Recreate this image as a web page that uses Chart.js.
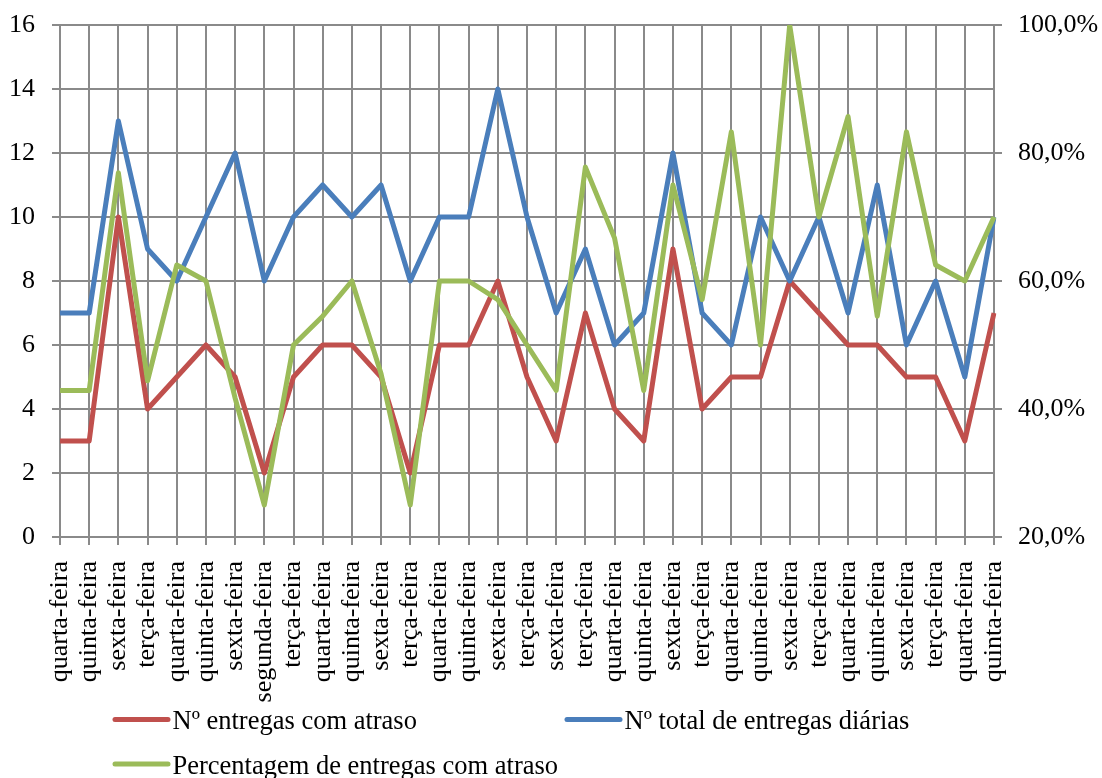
<!DOCTYPE html>
<html>
<head>
<meta charset="utf-8">
<script src="https://cdn.jsdelivr.net/npm/chart.js@4.4.1/dist/chart.umd.min.js"></script>
<style>
  html, body { margin: 0; padding: 0; background: #ffffff; }
  #wrap { width: 1102px; height: 778px; }
</style>
</head>
<body>
<div id="wrap"><canvas id="grafico" width="1102" height="778"></canvas></div>
<script>
// Dias de entrega (eixo das categorias)
const dias = [
  'quarta-feira', 'quinta-feira', 'sexta-feira', 'terça-feira', 'quarta-feira',
  'quinta-feira', 'sexta-feira', 'segunda-feira', 'terça-feira', 'quarta-feira',
  'quinta-feira', 'sexta-feira', 'terça-feira', 'quarta-feira', 'quinta-feira',
  'sexta-feira', 'terça-feira', 'sexta-feira', 'terça-feira', 'quarta-feira',
  'quinta-feira', 'sexta-feira', 'terça-feira', 'quarta-feira', 'quinta-feira',
  'sexta-feira', 'terça-feira', 'quarta-feira', 'quinta-feira', 'sexta-feira',
  'terça-feira', 'quarta-feira', 'quinta-feira'
];

// Nº de entregas com atraso
const entregasAtraso = [3, 3, 10, 4, 5, 6, 5, 2, 5, 6, 6, 5, 2, 6, 6, 8, 5, 3, 7, 4, 3, 9, 4, 5, 5, 8, 7, 6, 6, 5, 5, 3, 7];

// Nº total de entregas diárias
const entregasTotais = [7, 7, 13, 9, 8, 10, 12, 8, 10, 11, 10, 11, 8, 10, 10, 14, 10, 7, 9, 6, 7, 12, 7, 6, 10, 8, 10, 7, 11, 6, 8, 5, 10];

// Percentagem de entregas com atraso (%)
const percentagemAtraso = [
  42.9, 42.9, 76.9, 44.4, 62.5, 60.0, 41.7, 25.0, 50.0, 54.5, 60.0,
  45.5, 25.0, 60.0, 60.0, 57.1, 50.0, 42.9, 77.8, 66.7, 42.9, 75.0,
  57.1, 83.3, 50.0, 100.0, 70.0, 85.7, 54.5, 83.3, 62.5, 60.0, 70.0
];

// Limites dos eixos
const eixoEsquerdo = { min: 0, max: 16, passo: 2 };
const eixoDireito = { min: 20, max: 100, passo: 20 };

const corGrelha = '#8a8a8a';
const familia = '"Liberation Serif", "Times New Roman", serif';
const fonteEixos = { family: familia, size: 26 };
const fonteLegenda = { family: familia, size: 26.5 };

// Legenda em grelha (duas colunas) desenhada por baixo do eixo das categorias
const legendaGrelha = {
  id: 'legendaGrelha',
  afterDraw(chart) {
    const ctx = chart.ctx;
    const celulas = [
      { ds: 0, x: 115, linhaY: 719.5, textoY: 729 },
      { ds: 1, x: 567, linhaY: 719.5, textoY: 729 },
      { ds: 2, x: 115, linhaY: 764, textoY: 773.5 }
    ];
    ctx.save();
    ctx.font = fonteLegenda.size + 'px ' + fonteLegenda.family;
    ctx.textBaseline = 'alphabetic';
    ctx.textAlign = 'left';
    celulas.forEach(c => {
      const ds = chart.data.datasets[c.ds];
      ctx.strokeStyle = ds.borderColor;
      ctx.lineWidth = 5;
      ctx.lineCap = 'round';
      ctx.beginPath();
      ctx.moveTo(c.x, c.linhaY);
      ctx.lineTo(c.x + 53, c.linhaY);
      ctx.stroke();
      ctx.fillStyle = '#000000';
      ctx.fillText(ds.label, c.x + 57.5, c.textoY);
    });
    ctx.restore();
  }
};

const serie = (label, data, cor, eixo, ordem) => ({
  label, data,
  borderColor: cor,
  backgroundColor: cor,
  borderWidth: 5,
  pointRadius: 0,
  pointHoverRadius: 0,
  tension: 0,
  fill: false,
  borderJoinStyle: 'round',
  borderCapStyle: 'butt',
  yAxisID: eixo,
  order: ordem
});

// Os eixos verticais não reservam margem extra para o rótulo do topo
const semMargemVertical = scale => { scale.paddingTop = 0; scale.paddingBottom = 0; };

new Chart(document.getElementById('grafico'), {
  type: 'line',
  data: {
    labels: dias,
    datasets: [
      serie('Nº entregas com atraso', entregasAtraso, '#C0504D', 'y', 3),
      serie('Nº total de entregas diárias', entregasTotais, '#4A7EBB', 'y', 2),
      serie('Percentagem de entregas com atraso', percentagemAtraso, '#9BBB59', 'y1', 1)
    ]
  },
  options: {
    responsive: false,
    animation: false,
    devicePixelRatio: 1,
    layout: { padding: { top: 25, left: 0, right: 0, bottom: 0 } },
    plugins: {
      legend: { display: false },
      tooltip: { enabled: false }
    },
    scales: {
      x: {
        type: 'category',
        offset: false,
        grid: {
          offset: false,
          color: corGrelha,
          lineWidth: 2,
          drawTicks: true,
          tickLength: 8
        },
        border: { display: true, color: corGrelha, width: 2 },
        ticks: {
          autoSkip: false,
          minRotation: 90,
          maxRotation: 90,
          padding: 16,
          color: '#000000',
          font: fonteEixos
        },
        afterFit(scale) { scale.height = 241; scale.paddingLeft = 0; scale.paddingRight = 0; }
      },
      y: {
        position: 'left',
        min: eixoEsquerdo.min,
        max: eixoEsquerdo.max,
        grid: {
          color: corGrelha,
          lineWidth: 2,
          drawTicks: true,
          tickLength: 8
        },
        border: { display: true, color: corGrelha, width: 2 },
        ticks: {
          stepSize: eixoEsquerdo.passo,
          padding: 17,
          color: '#000000',
          font: fonteEixos
        },
        afterFit(scale) { scale.width = 60; semMargemVertical(scale); }
      },
      y1: {
        position: 'right',
        min: eixoDireito.min,
        max: eixoDireito.max,
        grid: {
          drawOnChartArea: false,
          color: corGrelha,
          lineWidth: 2,
          drawTicks: true,
          tickLength: 8
        },
        border: { display: true, color: corGrelha, width: 2 },
        ticks: {
          stepSize: eixoDireito.passo,
          padding: 16,
          color: '#000000',
          font: fonteEixos,
          callback: v => v.toFixed(1).replace('.', ',') + '%'
        },
        afterFit(scale) { scale.width = 108; semMargemVertical(scale); }
      }
    }
  },
  plugins: [legendaGrelha]
});
</script>
</body>
</html>
